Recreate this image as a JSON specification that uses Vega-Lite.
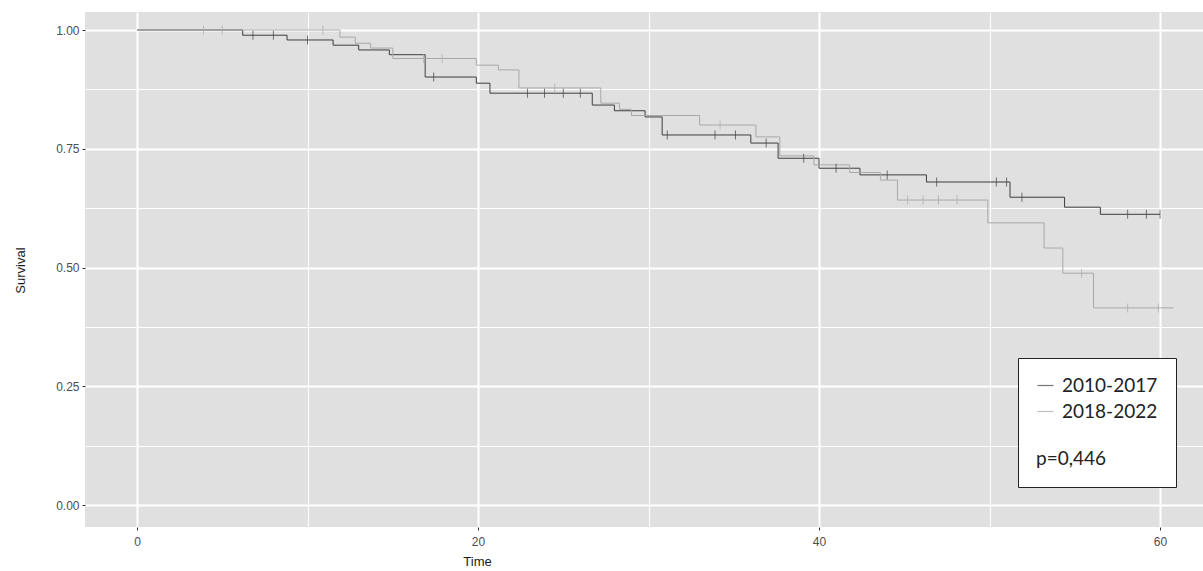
{
  "$schema": "https://vega.github.io/schema/vega-lite/v6.json",
  "autosize": {"type": "none"},
  "padding": {"left": 85, "top": 12, "right": 0, "bottom": 44},
  "width": 1118,
  "height": 515,
  "background": "white",
  "config": {
    "view": {"fill": "#e0e0e0", "stroke": null},
    "font": "Liberation Sans"
  },
  "data": {
    "values": [
      {"group": "2010-2017", "time": 0, "surv": 1.0, "censor": 0},
      {"group": "2010-2017", "time": 6.2, "surv": 0.989, "censor": 0},
      {"group": "2010-2017", "time": 6.8, "surv": 0.989, "censor": 1},
      {"group": "2010-2017", "time": 8.0, "surv": 0.989, "censor": 1},
      {"group": "2010-2017", "time": 8.8, "surv": 0.979, "censor": 0},
      {"group": "2010-2017", "time": 10.0, "surv": 0.979, "censor": 1},
      {"group": "2010-2017", "time": 11.5, "surv": 0.968, "censor": 0},
      {"group": "2010-2017", "time": 13.0, "surv": 0.958, "censor": 0},
      {"group": "2010-2017", "time": 14.8, "surv": 0.948, "censor": 0},
      {"group": "2010-2017", "time": 16.9, "surv": 0.901, "censor": 0},
      {"group": "2010-2017", "time": 17.4, "surv": 0.901, "censor": 1},
      {"group": "2010-2017", "time": 19.9, "surv": 0.888, "censor": 0},
      {"group": "2010-2017", "time": 20.7, "surv": 0.867, "censor": 0},
      {"group": "2010-2017", "time": 22.9, "surv": 0.867, "censor": 1},
      {"group": "2010-2017", "time": 23.9, "surv": 0.867, "censor": 1},
      {"group": "2010-2017", "time": 25.0, "surv": 0.867, "censor": 1},
      {"group": "2010-2017", "time": 26.0, "surv": 0.867, "censor": 1},
      {"group": "2010-2017", "time": 26.7, "surv": 0.842, "censor": 0},
      {"group": "2010-2017", "time": 28.0, "surv": 0.83, "censor": 0},
      {"group": "2010-2017", "time": 29.8, "surv": 0.817, "censor": 0},
      {"group": "2010-2017", "time": 30.8, "surv": 0.779, "censor": 0},
      {"group": "2010-2017", "time": 31.1, "surv": 0.779, "censor": 1},
      {"group": "2010-2017", "time": 33.9, "surv": 0.779, "censor": 1},
      {"group": "2010-2017", "time": 35.1, "surv": 0.779, "censor": 1},
      {"group": "2010-2017", "time": 36.0, "surv": 0.762, "censor": 0},
      {"group": "2010-2017", "time": 36.9, "surv": 0.762, "censor": 1},
      {"group": "2010-2017", "time": 37.6, "surv": 0.73, "censor": 0},
      {"group": "2010-2017", "time": 39.1, "surv": 0.73, "censor": 1},
      {"group": "2010-2017", "time": 40.0, "surv": 0.709, "censor": 0},
      {"group": "2010-2017", "time": 41.0, "surv": 0.709, "censor": 1},
      {"group": "2010-2017", "time": 42.4, "surv": 0.695, "censor": 0},
      {"group": "2010-2017", "time": 44.0, "surv": 0.695, "censor": 1},
      {"group": "2010-2017", "time": 46.3, "surv": 0.68, "censor": 0},
      {"group": "2010-2017", "time": 46.9, "surv": 0.68, "censor": 1},
      {"group": "2010-2017", "time": 50.4, "surv": 0.68, "censor": 1},
      {"group": "2010-2017", "time": 51.0, "surv": 0.68, "censor": 1},
      {"group": "2010-2017", "time": 51.2, "surv": 0.648, "censor": 0},
      {"group": "2010-2017", "time": 51.9, "surv": 0.648, "censor": 1},
      {"group": "2010-2017", "time": 54.4, "surv": 0.627, "censor": 0},
      {"group": "2010-2017", "time": 56.5, "surv": 0.612, "censor": 0},
      {"group": "2010-2017", "time": 58.1, "surv": 0.612, "censor": 1},
      {"group": "2010-2017", "time": 59.2, "surv": 0.612, "censor": 1},
      {"group": "2010-2017", "time": 60.0, "surv": 0.612, "censor": 1},
      {"group": "2018-2022", "time": 0, "surv": 1.0, "censor": 0},
      {"group": "2018-2022", "time": 3.9, "surv": 1.0, "censor": 1},
      {"group": "2018-2022", "time": 5.0, "surv": 1.0, "censor": 1},
      {"group": "2018-2022", "time": 10.9, "surv": 1.0, "censor": 1},
      {"group": "2018-2022", "time": 11.9, "surv": 0.985, "censor": 0},
      {"group": "2018-2022", "time": 12.8, "surv": 0.972, "censor": 0},
      {"group": "2018-2022", "time": 13.7, "surv": 0.962, "censor": 0},
      {"group": "2018-2022", "time": 15.0, "surv": 0.94, "censor": 0},
      {"group": "2018-2022", "time": 16.8, "surv": 0.94, "censor": 1},
      {"group": "2018-2022", "time": 17.9, "surv": 0.94, "censor": 1},
      {"group": "2018-2022", "time": 19.9, "surv": 0.926, "censor": 0},
      {"group": "2018-2022", "time": 21.2, "surv": 0.916, "censor": 0},
      {"group": "2018-2022", "time": 22.4, "surv": 0.878, "censor": 0},
      {"group": "2018-2022", "time": 24.5, "surv": 0.878, "censor": 1},
      {"group": "2018-2022", "time": 27.2, "surv": 0.846, "censor": 0},
      {"group": "2018-2022", "time": 28.3, "surv": 0.833, "censor": 0},
      {"group": "2018-2022", "time": 29.0, "surv": 0.82, "censor": 0},
      {"group": "2018-2022", "time": 33.0, "surv": 0.8, "censor": 0},
      {"group": "2018-2022", "time": 34.2, "surv": 0.8, "censor": 1},
      {"group": "2018-2022", "time": 36.3, "surv": 0.775, "censor": 0},
      {"group": "2018-2022", "time": 37.7, "surv": 0.735, "censor": 0},
      {"group": "2018-2022", "time": 39.7, "surv": 0.716, "censor": 0},
      {"group": "2018-2022", "time": 41.8, "surv": 0.7, "censor": 0},
      {"group": "2018-2022", "time": 43.6, "surv": 0.684, "censor": 0},
      {"group": "2018-2022", "time": 44.6, "surv": 0.642, "censor": 0},
      {"group": "2018-2022", "time": 45.2, "surv": 0.642, "censor": 1},
      {"group": "2018-2022", "time": 46.1, "surv": 0.642, "censor": 1},
      {"group": "2018-2022", "time": 47.0, "surv": 0.642, "censor": 1},
      {"group": "2018-2022", "time": 48.1, "surv": 0.642, "censor": 1},
      {"group": "2018-2022", "time": 49.9, "surv": 0.594, "censor": 0},
      {"group": "2018-2022", "time": 53.2, "surv": 0.541, "censor": 0},
      {"group": "2018-2022", "time": 54.3, "surv": 0.488, "censor": 0},
      {"group": "2018-2022", "time": 55.4, "surv": 0.488, "censor": 1},
      {"group": "2018-2022", "time": 56.1, "surv": 0.415, "censor": 0},
      {"group": "2018-2022", "time": 58.1, "surv": 0.415, "censor": 1},
      {"group": "2018-2022", "time": 59.9, "surv": 0.415, "censor": 1},
      {"group": "2018-2022", "time": 60.8, "surv": 0.415, "censor": 0}
    ]
  },
  "encoding": {
    "color": {
      "field": "group", "type": "nominal",
      "scale": {"domain": ["2010-2017", "2018-2022"], "range": ["#3d3d3d", "#a8a8a8"]},
      "legend": {
        "orient": "none", "legendX": 933, "legendY": 346,
        "title": "p=0,446", "titleOrient": "bottom", "titleAnchor": "start", "titleAlign": "left",
        "titlePadding": 28, "titleFont": "Lato", "titleFontSize": 19, "titleFontWeight": "normal", "titleColor": "#222222",
        "labelFont": "Lato", "labelFontSize": 19, "labelColor": "#222222", "labelOffset": 7,
        "symbolType": "stroke", "symbolSize": 256, "symbolStrokeWidth": 1.2,
        "rowPadding": 6,
        "padding": 18,
        "strokeColor": "#222222", "fillColor": "white"
      }
    }
  },
  "layer": [
    {
      "mark": {"type": "line", "interpolate": "step-after", "strokeWidth": 1, "clip": true},
      "encoding": {
        "x": {
          "field": "time", "type": "quantitative",
          "scale": {"domain": [-3.05, 62.52], "nice": false, "zero": false},
          "axis": {
            "orient": "bottom",
            "values": [0, 20, 40, 60],
            "title": "Time",
            "titleX": 392, "titleY": 34, "titleAnchor": "middle", "titleAlign": "center", "titleBaseline": "middle",
            "titleFontSize": 13, "titleFontWeight": "normal", "titleColor": "#1a1a1a",
            "domain": false,
            "grid": true, "gridColor": "white", "gridWidth": 2,
            "tickColor": "#333333", "tickSize": 3,
            "labelColor": "#4d4d4d", "labelFontSize": 12, "labelPadding": 6
          }
        },
        "y": {
          "field": "surv", "type": "quantitative",
          "scale": {"domain": [-0.0463, 1.0379], "nice": false, "zero": false},
          "axis": {
            "orient": "left",
            "values": [0, 0.25, 0.5, 0.75, 1],
            "format": ".2f",
            "title": "Survival",
            "titleX": -65, "titleY": 258, "titleAngle": -90, "titleAnchor": "middle", "titleAlign": "center", "titleBaseline": "middle",
            "titleFontSize": 13, "titleFontWeight": "normal", "titleColor": "#1a1a1a",
            "domain": false,
            "grid": true, "gridColor": "white", "gridWidth": 2,
            "tickColor": "#333333", "tickSize": 3,
            "labelColor": "#4d4d4d", "labelFontSize": 12, "labelPadding": 3
          }
        }
      }
    },
    {
      "transform": [{"filter": "datum.censor == 1"}],
      "mark": {"type": "tick", "orient": "vertical", "size": 9, "thickness": 1, "clip": true},
      "encoding": {
        "x": {
          "field": "time", "type": "quantitative",
          "axis": {
            "orient": "bottom",
            "values": [10, 30, 50],
            "title": null, "labels": false, "ticks": false, "domain": false,
            "grid": true, "gridColor": "white", "gridWidth": 1
          }
        },
        "y": {
          "field": "surv", "type": "quantitative",
          "axis": {
            "orient": "left",
            "values": [0.125, 0.375, 0.625, 0.875],
            "title": null, "labels": false, "ticks": false, "domain": false,
            "grid": true, "gridColor": "white", "gridWidth": 1
          }
        }
      }
    }
  ],
  "resolve": {"axis": {"x": "independent", "y": "independent"}}
}
